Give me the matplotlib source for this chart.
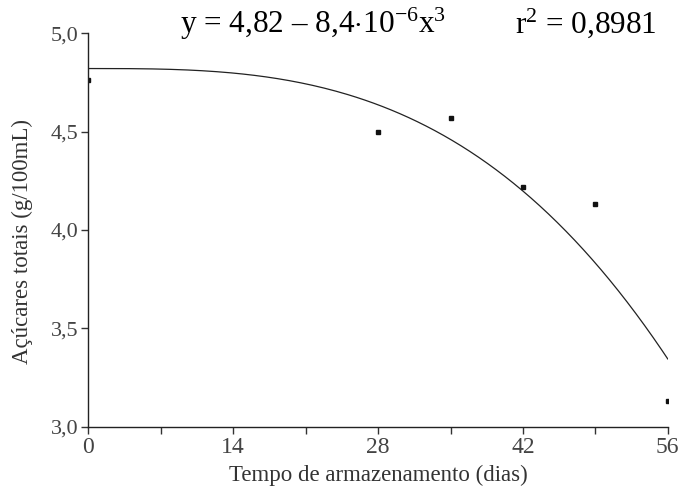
import numpy as np
import matplotlib
matplotlib.use("Agg")
import matplotlib.pyplot as plt

plt.rcParams['font.family'] = ['Liberation Serif', 'DejaVu Serif']
plt.rcParams['mathtext.fontset'] = 'custom'
plt.rcParams['mathtext.rm'] = 'Liberation Serif'
plt.rcParams['mathtext.it'] = 'Liberation Serif:italic'

days = [0, 28, 35, 42, 49, 56]
sugars = [4.76, 4.50, 4.57, 4.22, 4.13, 3.13]
b0 = 4.82
b3 = -8.4e-6
xticks_major = [0, 14, 28, 42, 56]
xticks_minor = [7, 21, 35, 49]
yticks = [3.0, 3.5, 4.0, 4.5, 5.0]
ytick_labels = ['3,0', '3,5', '4,0', '4,5', '5,0']

fig = plt.figure(figsize=(6.8, 4.94), dpi=100)
ax = fig.add_axes([0.130, 0.136, 0.852, 0.797])

xc = np.linspace(0, 56, 200)
ax.plot(xc, b0 + b3 * xc**3, color='#222222', lw=0.9)
ax.plot(days, sugars, ls='none', marker='s', ms=3.5, color='#111111')

ax.set_xlim(0, 56)
ax.set_ylim(3.0, 5.0)
ax.set_xticks(xticks_major)
ax.set_xticks(xticks_minor, minor=True)
ax.set_yticks(yticks)
ax.set_yticklabels(ytick_labels)
ax.tick_params(axis='both', direction='out', colors='#333333', labelcolor='#444444',
               length=5, width=1)
ax.tick_params(axis='x', which='minor', direction='out', length=5, width=1, colors='#333333')
ax.tick_params(axis='x', labelsize=17, pad=2)
ax.tick_params(axis='y', labelsize=16, pad=2)
for s in ['top', 'right']:
    ax.spines[s].set_visible(False)
for s in ['left', 'bottom']:
    ax.spines[s].set_color('#222222')
    ax.spines[s].set_linewidth(1)

ax.set_xlabel('Tempo de armazenamento (dias)', fontsize=16.5, color='#333333', labelpad=5)
ax.set_ylabel('Açúcares totais (g/100mL)', fontsize=16.5, color='#333333', labelpad=5)
ax.yaxis.set_label_coords(-0.095, 0.47)

fig.text(0.265, 0.952, r'y = 4,82 – 8,4$\cdot$10$^{-6}$x$^{3}$', fontsize=22.5, ha='left', va='center')
fig.text(0.757, 0.952, r'r$^{2}$ = 0,8981', fontsize=22.5, ha='left', va='center')

fig.savefig('out.png', dpi=100)
